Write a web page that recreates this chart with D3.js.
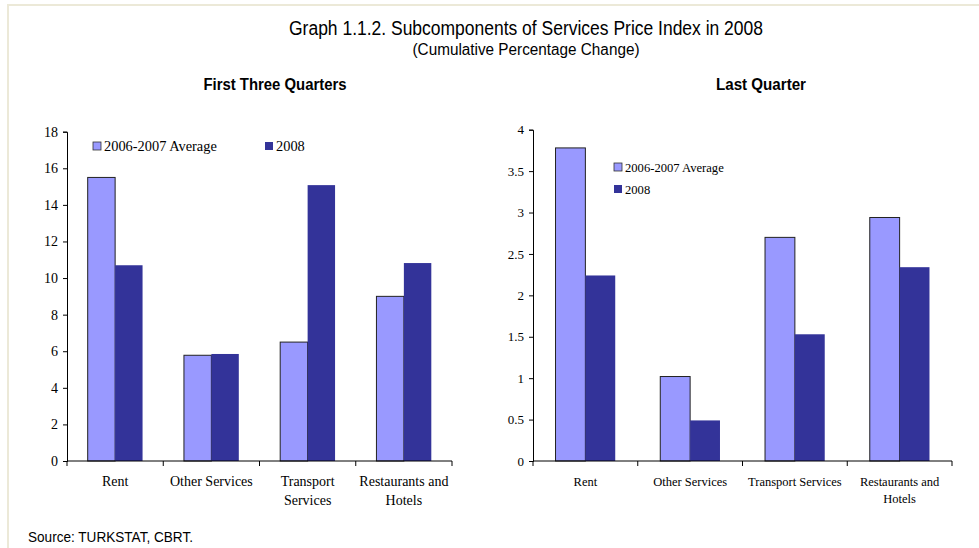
<!DOCTYPE html>
<html>
<head>
<meta charset="utf-8">
<script src="https://cdn.jsdelivr.net/npm/d3@7"></script>
<style>
  body { margin: 0; background: #fff; }
  svg { display: block; }
  .sans { font-family: "Liberation Sans Narrow", "Arial Narrow", "Liberation Sans", sans-serif; }
  .serif { font-family: "Liberation Serif", "Times New Roman", serif; }
</style>
</head>
<body>
<svg id="chart" width="979" height="548"></svg>
<script>
// ── data ──
const categories   = ["Rent", "Other Services", "Transport Services", "Restaurants and Hotels"];
const seriesNames  = ["2006-2007 Average", "2008"];
const firstAvg     = [15.5, 5.78, 6.5, 9.0];
const first2008    = [10.7, 5.85, 15.08, 10.82];
const lastAvg      = [3.78, 1.02, 2.70, 2.94];
const last2008     = [2.24, 0.49, 1.53, 2.34];
const leftTicks    = [0, 2, 4, 6, 8, 10, 12, 14, 16, 18];
const rightTicks   = [0, 0.5, 1, 1.5, 2, 2.5, 3, 3.5, 4];
// category labels split into lines per panel
const leftCatLines  = [["Rent"], ["Other Services"], ["Transport", "Services"], ["Restaurants and", "Hotels"]];
const rightCatLines = [["Rent"], ["Other Services"], ["Transport Services"], ["Restaurants and", "Hotels"]];

const colors = ["#9999ff", "#333399"];
const SERIF = '"Liberation Serif", "Times New Roman", serif';

const svg = d3.select("#chart");

// page frame
svg.append("rect").attr("x", 7).attr("y", 4).attr("width", 979).attr("height", 2).attr("fill", "#ece9d8");
svg.append("rect").attr("x", 7).attr("y", 4).attr("width", 2).attr("height", 548).attr("fill", "#ece9d8");

// narrow-looking heading text: squeeze a regular sans into the measured width
const heading = (x, y, size, len, txt, opts = {}) =>
  svg.append("text").attr("class", "sans").attr("x", x).attr("y", y)
    .attr("text-anchor", opts.anchor || "middle").attr("font-size", size)
    .attr("font-weight", opts.bold ? "bold" : null)
    .attr("textLength", len).attr("lengthAdjust", "spacingAndGlyphs")
    .attr("fill", "#000").text(txt);

heading(526, 35, 20, 474, "Graph 1.1.2. Subcomponents of Services Price Index in 2008");
heading(526, 55, 16, 227, "(Cumulative Percentage Change)");
heading(28, 542, 15.5, 165, "Source: TURKSTAT, CBRT.", { anchor: "start" });

const drawPanel = (opt) => {
  const { x0, x1, yTop, yBottom, max, ticks, avg, cur, catLines, title, titleX, titleLen,
          barFrac, legend, tickFont, catFont, legFont, lineGap } = opt;

  const x = d3.scaleBand().domain(categories).range([x0, x1]).paddingInner(0).paddingOuter(0);
  const y = d3.scaleLinear().domain([0, max]).range([yBottom, yTop]);
  const groupW = x.bandwidth() * barFrac;
  const xs = d3.scaleBand().domain(seriesNames).range([0, groupW]).padding(0);

  const g = svg.append("g");

  heading(titleX, 90, 16, titleLen, title, { bold: true });

  // bars
  const rows = categories.map((c, i) => ({ c, vals: [avg[i], cur[i]] }));
  const grp = g.selectAll("g.grp").data(rows).join("g")
    .attr("transform", (d) => `translate(${x(d.c) + (x.bandwidth() - groupW) / 2},0)`);
  grp.selectAll("rect").data((d) => d.vals.map((v, k) => ({ v, k }))).join("rect")
    .attr("x", (d) => xs(seriesNames[d.k]))
    .attr("width", xs.bandwidth())
    .attr("y", (d) => y(d.v))
    .attr("height", (d) => y(0) - y(d.v))
    .attr("fill", (d) => colors[d.k])
    .attr("stroke", (d) => d.k === 0 ? "#222" : "none")
    .attr("stroke-width", 1);

  // y axis
  const yAxis = g.append("g").attr("transform", `translate(${x0},0)`)
    .call(d3.axisLeft(y).tickValues(ticks).tickSize(4).tickPadding(5).tickFormat((d) => d))
    .attr("font-family", SERIF).attr("font-size", tickFont);
  yAxis.select(".domain").attr("stroke", "#000");
  yAxis.selectAll("line").attr("stroke", "#000");
  yAxis.selectAll("text").attr("fill", "#000");

  // x axis
  const xAxis = g.append("g").attr("transform", `translate(0,${yBottom})`)
    .attr("font-family", SERIF);
  xAxis.append("line").attr("x1", x0).attr("x2", x1).attr("stroke", "#000");
  xAxis.selectAll("line.tk").data([...categories.map((c) => x(c)), x1]).join("line")
    .attr("class", "tk").attr("x1", (d) => d).attr("x2", (d) => d)
    .attr("y1", 0).attr("y2", 5).attr("stroke", "#000");
  const lab = xAxis.selectAll("text.cat").data(categories).join("text")
    .attr("class", "cat")
    .attr("text-anchor", "middle").attr("font-size", catFont).attr("fill", "#000");
  lab.selectAll("tspan").data((d, i) => catLines[i]).join("tspan")
    .attr("x", function () { return x(d3.select(this.parentNode).datum()) + x.bandwidth() / 2; })
    .attr("y", (d, j) => 25 + j * lineGap)
    .text((d) => d);

  // legend
  const lg = g.append("g").attr("font-family", SERIF);
  legend.forEach((p, k) => {
    lg.append("rect").attr("x", p[0]).attr("y", p[1] - 9).attr("width", 8).attr("height", 8)
      .attr("fill", colors[k]).attr("stroke", k === 0 ? "#333" : "none").attr("stroke-width", 0.8);
    lg.append("text").attr("x", p[0] + 11).attr("y", p[1])
      .attr("font-size", legFont).attr("fill", "#000").text(seriesNames[k]);
  });
};

drawPanel({
  x0: 67, x1: 452, yTop: 131.7, yBottom: 461, max: 18, ticks: leftTicks,
  avg: firstAvg, cur: first2008, catLines: leftCatLines,
  title: "First Three Quarters", titleX: 275, titleLen: 143, barFrac: 0.57,
  legend: [[93, 151], [265, 151]], tickFont: 14, catFont: 14, legFont: 14.4, lineGap: 19
});

drawPanel({
  x0: 533, x1: 952, yTop: 129.7, yBottom: 461, max: 4, ticks: rightTicks,
  avg: lastAvg, cur: last2008, catLines: rightCatLines,
  title: "Last Quarter", titleX: 761, titleLen: 90, barFrac: 0.57,
  legend: [[614, 172], [614, 194]], tickFont: 13, catFont: 12.5, legFont: 12.6, lineGap: 17
});
</script>
</body>
</html>
